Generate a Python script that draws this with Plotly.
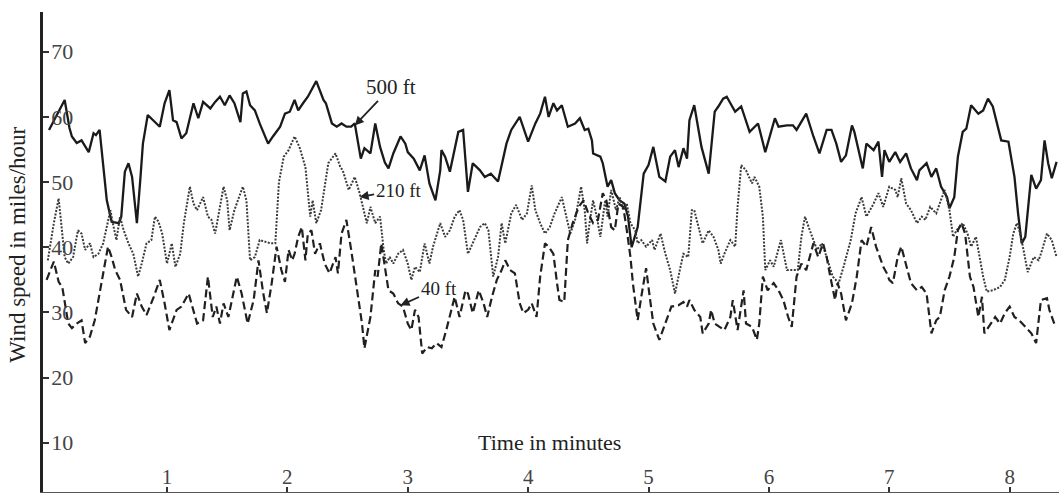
import plotly.graph_objects as go

# ---------------- data (minutes, miles/hour) ----------------
t500 = [0.02,0.15,0.19,0.21,0.25,0.29,0.35,0.39,0.41,0.44,0.50,0.54,0.60,0.62,0.65,0.68,0.71,0.75,0.78,0.80,
        0.84,0.90,0.94,0.98,1.02,1.05,1.08,1.12,1.16,1.22,1.26,1.30,1.36,1.40,1.44,1.48,1.52,1.56,1.61,1.63,
        1.66,1.69,1.73,1.77,1.84,1.88,1.94,1.98,2.02,2.06,2.09,2.13,2.17,2.24,2.30,2.32,2.37,2.41,2.45,2.49,
        2.53,2.56,2.60,2.61,2.64,2.69,2.73,2.77,2.81,2.84,2.88,2.94,2.98,3.00,3.05,3.10,3.14,3.18,3.23,3.27,
        3.28,3.31,3.35,3.38,3.42,3.46,3.50,3.54,3.60,3.64,3.69,3.75,3.82,3.86,3.93,4.00,4.06,4.10,4.14,4.17,
        4.21,4.24,4.28,4.33,4.39,4.43,4.47,4.50,4.53,4.54,4.60,4.62,4.66,4.69,4.72,4.76,4.80,4.83,4.86,4.91,
        4.96,5.00,5.04,5.09,5.14,5.18,5.22,5.25,5.29,5.32,5.34,5.38,5.44,5.50,5.55,5.58,5.62,5.65,5.72,5.77,
        5.84,5.91,5.97,6.05,6.08,6.15,6.20,6.23,6.31,6.37,6.42,6.48,6.52,6.56,6.60,6.64,6.69,6.71,6.76,6.78,
        6.81,6.87,6.91,6.94,6.96,7.00,7.05,7.09,7.14,7.18,7.23,7.25,7.31,7.35,7.39,7.43,7.48,7.50,7.54,7.57,
        7.61,7.64,7.68,7.74,7.78,7.82,7.86,7.93,7.99,8.04,8.07,8.10,8.13,8.18,8.22,8.26,8.29,8.32,8.35,8.39]
v500 = [58.0,62.6,58.3,57.0,56.0,56.4,54.6,57.5,57.2,58.0,47.2,43.9,43.7,44.7,51.6,52.9,50.8,43.7,50.8,55.9,
        60.3,59.2,58.5,62.1,64.1,59.5,59.2,56.7,57.5,62.1,59.8,62.3,61.3,62.3,63.1,61.8,63.3,62.1,59.2,63.6,
        63.9,61.8,61.0,59.0,55.9,57.0,58.5,60.5,60.8,62.6,61.0,62.1,63.1,65.5,62.6,62.1,59.0,58.5,59.0,58.5,
        58.5,59.0,54.9,53.6,55.2,54.4,59.0,55.4,53.0,52.1,54.4,57.0,55.9,54.6,53.6,51.8,54.1,49.8,47.2,51.8,
        54.9,53.9,51.6,54.1,57.7,58.0,48.5,52.9,51.8,50.8,51.3,50.1,55.9,58.0,60.0,56.2,59.0,60.5,63.1,60.0,
        62.1,61.0,61.8,58.5,59.0,59.8,58.0,58.2,56.4,54.4,53.9,52.9,49.3,50.3,48.3,47.2,46.7,44.7,40.0,43.1,
        51.3,52.6,55.4,50.8,50.1,53.9,54.9,52.3,55.2,53.6,59.5,61.8,55.4,51.3,60.8,61.6,62.8,63.1,60.8,61.6,
        57.7,59.0,54.6,59.8,58.5,58.7,58.7,58.0,60.5,57.0,54.4,58.0,58.0,55.9,53.1,54.1,58.7,57.7,53.9,52.1,
        55.9,54.9,56.2,50.8,54.9,53.1,54.6,53.1,54.4,52.1,50.3,51.8,52.9,50.8,52.1,49.3,47.7,46.0,47.7,53.9,
        57.7,58.2,61.8,60.5,61.0,62.8,61.6,56.4,56.2,50.8,45.2,40.6,41.6,51.1,49.0,50.3,56.4,52.9,50.6,53.1]

t210 = [0.01,0.06,0.10,0.13,0.15,0.18,0.22,0.26,0.29,0.32,0.36,0.39,0.43,0.47,0.53,0.55,0.58,0.61,0.64,0.68,
        0.72,0.76,0.79,0.83,0.87,0.90,0.93,0.96,1.00,1.04,1.07,1.11,1.14,1.19,1.22,1.25,1.30,1.34,1.37,1.40,
        1.44,1.47,1.50,1.52,1.56,1.63,1.66,1.69,1.73,1.77,1.86,1.90,1.93,1.97,2.01,2.06,2.10,2.15,2.19,2.21,
        2.24,2.28,2.34,2.40,2.44,2.46,2.51,2.56,2.60,2.66,2.69,2.73,2.77,2.80,2.82,2.85,2.88,2.92,2.96,3.00,
        3.03,3.06,3.10,3.14,3.18,3.21,3.27,3.31,3.35,3.39,3.43,3.46,3.50,3.54,3.60,3.64,3.67,3.71,3.75,3.78,
        3.81,3.86,3.90,3.95,3.99,4.03,4.06,4.10,4.14,4.18,4.22,4.28,4.30,4.35,4.39,4.44,4.47,4.49,4.51,4.54,
        4.57,4.60,4.64,4.66,4.69,4.73,4.76,4.79,4.82,4.85,4.89,4.91,4.94,4.98,5.03,5.05,5.10,5.14,5.18,5.22,
        5.26,5.29,5.33,5.36,5.38,5.43,5.45,5.50,5.54,5.58,5.60,5.63,5.68,5.72,5.74,5.77,5.81,5.86,5.88,5.92,
        5.95,5.97,6.01,6.04,6.10,6.15,6.20,6.24,6.27,6.30,6.34,6.40,6.44,6.48,6.53,6.58,6.62,6.68,6.72,6.77,
        6.81,6.87,6.91,6.95,7.00,7.05,7.07,7.10,7.14,7.18,7.23,7.27,7.30,7.34,7.39,7.43,7.46,7.50,7.53,7.56,
        7.61,7.65,7.68,7.72,7.75,7.78,7.81,7.86,7.92,7.96,8.00,8.03,8.06,8.08,8.11,8.15,8.20,8.24,8.26,8.31,
        8.35,8.39]
v210 = [38.0,43.7,47.5,42.6,38.5,37.5,38.5,42.6,42.1,39.6,40.6,38.5,39.0,40.6,45.7,43.7,41.1,44.7,42.6,40.6,
        39.0,35.5,37.5,40.6,41.1,44.7,43.9,42.1,37.5,40.6,37.0,39.0,43.7,49.3,46.7,45.7,47.7,44.7,44.2,42.1,
        46.2,49.3,47.2,42.6,45.7,49.3,47.2,38.0,38.5,41.1,40.6,40.6,50.0,53.9,54.9,57.0,55.4,52.3,44.7,47.2,
        43.7,45.7,52.9,54.4,52.3,51.8,48.8,50.8,48.3,43.7,46.2,43.7,44.7,39.6,37.5,38.5,37.5,39.0,39.6,37.5,
        35.0,37.0,36.2,40.6,37.5,40.1,43.7,41.6,42.6,44.7,45.7,44.2,39.0,40.6,43.1,43.7,42.6,35.5,38.5,43.7,
        40.6,45.2,46.5,44.2,45.2,49.5,45.7,43.7,42.1,43.1,45.2,47.7,46.2,42.1,44.2,49.3,45.7,40.6,43.7,47.2,
        44.7,41.6,47.2,44.7,48.8,45.7,47.7,45.7,46.7,43.7,42.6,40.6,41.1,40.1,41.1,39.6,42.1,39.0,36.5,32.9,
        36.5,39.0,38.5,45.7,45.7,42.1,40.6,42.6,41.6,39.6,37.5,39.0,41.1,40.1,46.2,52.6,51.8,49.8,50.8,49.3,
        44.7,36.5,38.0,37.0,41.1,36.5,36.5,36.5,41.6,44.7,42.6,39.6,40.6,38.5,35.5,34.5,37.0,41.1,45.2,47.7,
        44.7,46.7,48.3,46.2,49.3,48.8,47.7,50.6,46.7,45.7,43.7,44.7,44.2,46.2,45.2,47.2,48.8,45.7,41.6,42.6,
        43.7,42.1,40.1,41.6,38.5,35.5,33.2,33.4,33.9,35.0,38.5,42.1,43.7,42.6,40.1,36.2,38.5,38.0,39.0,42.1,
        41.1,38.5]

t40 = [0.00,0.06,0.10,0.13,0.18,0.21,0.25,0.29,0.32,0.36,0.40,0.44,0.47,0.51,0.54,0.57,0.61,0.64,0.66,0.71,
       0.75,0.79,0.83,0.89,0.94,0.98,1.02,1.08,1.12,1.18,1.22,1.25,1.30,1.34,1.38,1.41,1.44,1.47,1.51,1.58,
       1.62,1.67,1.72,1.76,1.80,1.83,1.87,1.91,1.95,1.98,2.01,2.04,2.06,2.09,2.12,2.15,2.17,2.20,2.23,2.27,
       2.31,2.35,2.40,2.42,2.45,2.49,2.53,2.57,2.62,2.64,2.69,2.73,2.75,2.78,2.81,2.84,2.88,2.92,2.96,3.00,
       3.03,3.06,3.09,3.12,3.16,3.20,3.24,3.28,3.32,3.36,3.39,3.43,3.48,3.50,3.54,3.59,3.63,3.66,3.70,3.74,
       3.78,3.81,3.85,3.89,3.93,3.96,4.00,4.03,4.07,4.10,4.14,4.17,4.21,4.24,4.26,4.30,4.33,4.37,4.42,4.46,
       4.50,4.54,4.58,4.62,4.65,4.69,4.72,4.75,4.79,4.82,4.85,4.87,4.91,4.94,4.98,5.01,5.04,5.09,5.14,5.19,
       5.25,5.29,5.32,5.34,5.38,5.43,5.45,5.50,5.52,5.55,5.59,5.63,5.68,5.70,5.74,5.79,5.81,5.86,5.90,5.92,
       5.95,5.99,6.04,6.08,6.12,6.16,6.19,6.23,6.27,6.31,6.37,6.41,6.45,6.48,6.51,6.53,6.55,6.57,6.60,6.64,
       6.69,6.73,6.77,6.81,6.85,6.89,6.92,6.95,6.98,7.00,7.03,7.07,7.10,7.14,7.18,7.23,7.27,7.31,7.35,7.39,
       7.42,7.46,7.50,7.54,7.57,7.60,7.63,7.67,7.70,7.74,7.77,7.79,7.84,7.88,7.92,7.96,8.00,8.04,8.08,8.13,
       8.18,8.22,8.26,8.31,8.33,8.38]
v40 = [35.0,37.8,34.7,33.9,28.3,27.6,28.3,28.8,25.3,26.3,28.8,32.9,36.5,40.1,38.5,36.5,35.0,32.4,30.4,29.3,
       32.9,30.9,29.6,32.4,35.0,31.4,27.3,30.4,30.9,32.9,30.4,28.3,28.8,35.5,29.3,30.9,28.3,31.4,29.3,35.5,
       32.9,28.3,31.9,38.0,32.9,29.9,34.5,40.1,36.5,34.7,39.6,38.0,39.0,41.6,43.1,38.0,42.1,42.6,39.0,40.6,
       37.5,36.0,38.5,36.0,42.1,44.2,39.6,34.5,28.3,24.5,29.3,36.5,35.5,40.6,37.0,33.4,32.9,31.4,30.9,28.3,
       27.3,30.4,29.3,23.7,24.7,24.5,25.3,24.7,27.3,30.4,32.4,29.3,33.4,32.9,29.9,33.4,31.4,29.3,32.4,35.0,
       36.5,38.0,36.5,36.0,31.4,29.9,30.4,31.4,29.3,35.5,40.6,40.1,39.0,34.5,31.9,31.6,41.1,43.7,46.2,47.2,
       45.2,43.7,44.2,48.3,47.2,43.1,42.6,46.7,46.2,42.6,38.5,34.5,28.8,32.4,36.8,32.4,28.3,25.8,28.3,30.9,
       31.1,31.6,30.9,31.9,30.4,29.3,26.8,28.3,30.4,28.3,27.8,27.3,29.3,31.9,27.3,33.4,28.3,27.8,25.8,28.3,
       35.5,33.4,34.5,33.4,31.9,29.3,27.8,35.5,37.5,36.5,40.6,38.5,40.6,38.5,35.5,33.9,31.9,34.5,32.9,28.8,
       31.4,35.5,41.1,40.1,43.1,40.1,38.5,37.0,36.0,35.0,34.5,38.5,40.1,37.5,34.5,33.4,33.9,32.9,26.8,28.8,
       29.3,33.4,35.5,38.5,42.6,43.7,42.1,35.5,33.9,29.3,32.4,26.8,28.3,29.3,28.3,29.9,30.9,29.3,28.8,27.8,
       26.8,25.3,31.9,32.2,30.4,27.8]

x_ticks = [1, 2, 3, 4, 5, 6, 7, 8]
y_ticks = [10, 20, 30, 40, 50, 60, 70]
series_labels = ["500 ft", "210 ft", "40 ft"]
x_title = "Time in minutes"
y_title = "Wind speed in miles/hour"

SERIF = "Liberation Serif, Times New Roman, serif"

fig = go.Figure()
fig.add_trace(go.Scatter(x=t500, y=v500, mode="lines", name=series_labels[0],
                         line=dict(color="#1a1a1a", width=2.3)))
fig.add_trace(go.Scatter(x=t210, y=v210, mode="lines", name=series_labels[1],
                         line=dict(color="#3a3a3a", width=2, dash="2px,1.5px")))
fig.add_trace(go.Scatter(x=t40, y=v40, mode="lines", name=series_labels[2],
                         line=dict(color="#202020", width=2.2, dash="8px,4px")))

ann_font = dict(family=SERIF, color="#222")
fig.add_annotation(x=2.56, y=58.7, text=series_labels[0], showarrow=True, axref="pixel", ayref="pixel",
                   ax=36, ay=-38, arrowhead=2, arrowsize=1, arrowwidth=1.8, arrowcolor="#222",
                   font=dict(size=21, **ann_font))
fig.add_annotation(x=2.60, y=47.7, text=series_labels[1], showarrow=True, axref="pixel", ayref="pixel",
                   ax=39, ay=-7, arrowhead=2, arrowsize=1, arrowwidth=1.8, arrowcolor="#222",
                   font=dict(size=19, **ann_font))
fig.add_annotation(x=2.94, y=31.1, text=series_labels[2], showarrow=True, axref="pixel", ayref="pixel",
                   ax=38, ay=-17, arrowhead=2, arrowsize=1, arrowwidth=1.8, arrowcolor="#222",
                   font=dict(size=19, **ann_font))
fig.add_annotation(x=4.18, y=10.0, text=x_title, showarrow=False, font=dict(size=22, **ann_font))
fig.add_annotation(xref="paper", yref="paper", x=0, y=0.515, xshift=-25, xanchor="center", yanchor="middle",
                   text=y_title, showarrow=False, textangle=-90, font=dict(size=23, **ann_font))

fig.update_layout(
    width=1059, height=493,
    margin=dict(l=43, r=0, t=12, b=1),
    paper_bgcolor="white", plot_bgcolor="white",
    showlegend=False,
    font=dict(family=SERIF, color="#222"),
    xaxis=dict(range=[-0.03, 8.41], tickvals=x_ticks, ticks="inside", ticklen=5, tickwidth=1.5,
               tickcolor="#333", ticklabelposition="inside", tickfont=dict(size=21, family=SERIF),
               showline=True, linecolor="#555", linewidth=1.5, showgrid=False, zeroline=False),
    yaxis=dict(range=[2.45, 76.1], tickvals=y_ticks, ticks="inside", ticklen=6, tickwidth=1.5,
               tickcolor="#333", ticklabelposition="inside", ticklabelstandoff=4,
               tickfont=dict(size=22, family=SERIF),
               showline=True, linecolor="#222", linewidth=2.5, showgrid=False, zeroline=False),
)

fig.write_html("out.html")
